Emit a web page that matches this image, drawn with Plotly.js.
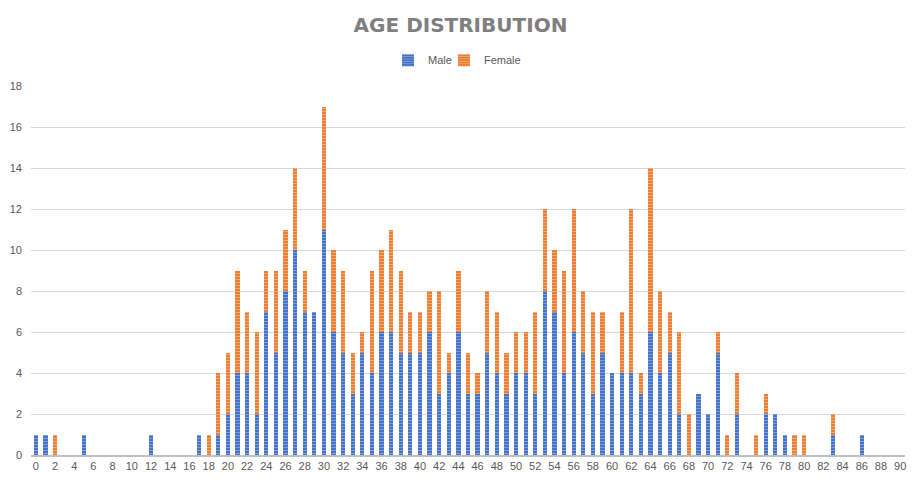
<!DOCTYPE html>
<html>
<head>
<meta charset="utf-8">
<script src="https://cdn.plot.ly/plotly-3.0.1.min.js"></script>
<style>html,body{margin:0;padding:0;background:#fff;}#chart{width:921px;height:486px;}</style>
</head>
<body>
<div id="chart"></div>
<script>
const ages = Array.from({length: 91}, (_, i) => i);
const male = [
  1,1,0,0,0,1,0,0,0,0,   // 0-9
  0,0,1,0,0,0,0,1,0,1,   // 10-19
  2,4,4,2,7,5,8,10,7,7,  // 20-29
  11,6,5,3,5,4,6,6,5,5,  // 30-39
  5,6,3,4,6,3,3,5,4,3,   // 40-49
  4,4,3,8,7,4,6,5,3,5,   // 50-59
  4,4,4,3,6,4,5,2,0,3,   // 60-69
  2,5,0,2,0,0,2,2,1,0,   // 70-79
  0,0,0,1,0,0,1,0,0,0,   // 80-89
  0                      // 90
];
const female = [
  0,0,1,0,0,0,0,0,0,0,   // 0-9
  0,0,0,0,0,0,0,0,1,3,   // 10-19
  3,5,3,4,2,4,3,4,2,0,   // 20-29
  6,4,4,2,1,5,4,5,4,2,   // 30-39
  2,2,5,1,3,2,1,3,3,2,   // 40-49
  2,2,4,4,3,5,6,3,4,2,   // 50-59
  0,3,8,1,8,4,2,4,2,0,   // 60-69
  0,1,1,2,0,1,1,0,0,1,   // 70-79
  1,0,0,1,0,0,0,0,0,0,   // 80-89
  0                      // 90
];
const tickVals = Array.from({length: 46}, (_, i) => i * 2);
const tickText = tickVals.map(String);

const traces = [
  {type: 'bar', name: 'Male', x: ages, y: male, legend: 'legend',
   marker: {color: '#4472C4', line: {width: 0},
            pattern: {shape: '-', bgcolor: '#4472C4', fgcolor: '#7f9fdc', size: 3, solidity: 0.35, fillmode: 'replace'}}},
  {type: 'bar', name: 'Female', x: ages, y: female, legend: 'legend2',
   marker: {color: '#ED7D31', line: {width: 0},
            pattern: {shape: '-', bgcolor: '#ED7D31', fgcolor: '#f5a877', size: 3, solidity: 0.35, fillmode: 'replace'}}}
];
const legFont = {size: 11, color: '#595959'};
const layout = {
  width: 921, height: 486,
  barmode: 'stack', bargap: 0.56,
  paper_bgcolor: '#fff', plot_bgcolor: '#fff',
  font: {family: 'Liberation Sans, Arial, sans-serif', color: '#595959', size: 11},
  margin: {l: 31, r: 16, t: 86, b: 31},
  title: {text: 'AGE DISTRIBUTION', x: 0.5, xanchor: 'center', y: 0.949, yanchor: 'middle',
          font: {family: 'DejaVu Sans, sans-serif', size: 20, color: '#7f7f7f', weight: 'bold'}},
  showlegend: true,
  legend: {orientation: 'h', x: 0.4085, xanchor: 'left', y: 1.07, yanchor: 'middle',
           font: legFont, itemwidth: 30, bgcolor: 'rgba(0,0,0,0)'},
  legend2: {orientation: 'h', x: 0.4725, xanchor: 'left', y: 1.07, yanchor: 'middle',
           font: legFont, itemwidth: 30, bgcolor: 'rgba(0,0,0,0)'},
  xaxis: {range: [-0.5, 90.5], tickmode: 'array', tickvals: tickVals, ticktext: tickText,
          showgrid: false, showline: true, linecolor: '#bfbfbf', linewidth: 2, ticks: '',
          tickfont: {size: 11, color: '#595959'}, zeroline: false, fixedrange: true},
  yaxis: {range: [0, 18], dtick: 2, showgrid: true, gridcolor: '#d9d9d9', gridwidth: 1,
          zeroline: false, showline: false, ticks: '', ticklabelstandoff: 8,
          tickfont: {size: 11, color: '#595959'}, fixedrange: true}
};
Plotly.newPlot('chart', traces, layout, {displayModeBar: false, staticPlot: true});
</script>
</body>
</html>
